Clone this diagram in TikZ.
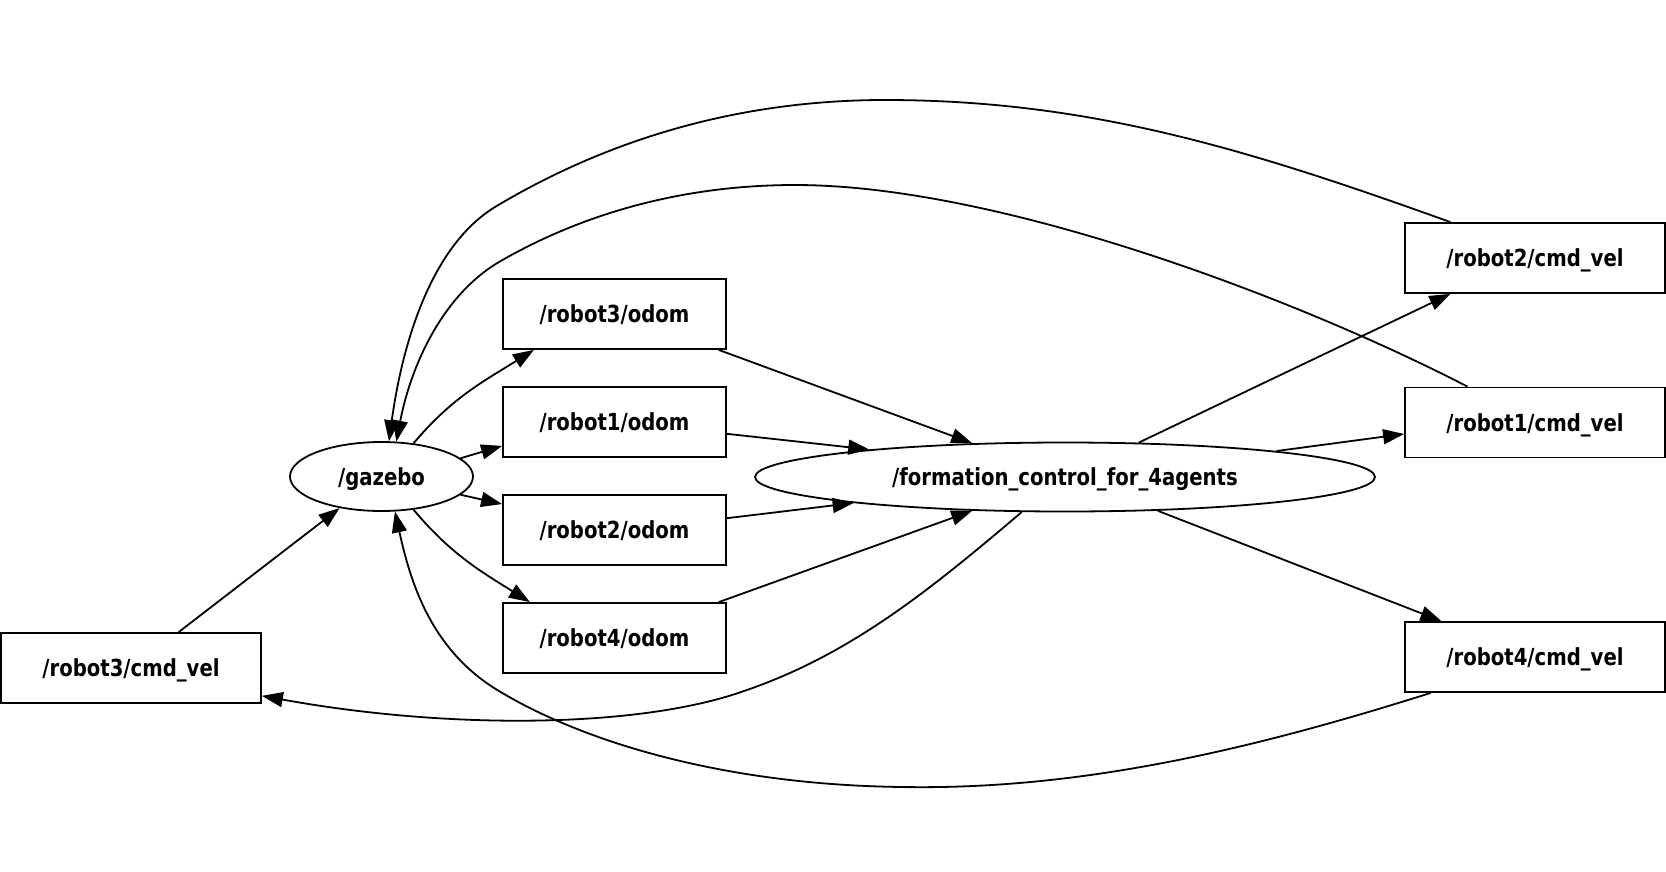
\documentclass[tikz,border=0pt]{standalone}
\usepackage{fontspec}
\newfontfamily\lblfont{DejaVu Sans Condensed Bold}[FakeStretch=0.93]
\usetikzlibrary{arrows.meta,shapes.geometric}
\begin{document}
\begin{tikzpicture}[x=1pt,y=-1pt,line width=1.8pt,
  lbl/.style={font=\lblfont\fontsize{23.5}{28}\selectfont,text height=17.8pt,text depth=0pt},
  topic/.style={lbl,draw,rectangle,inner sep=0pt,minimum height=70pt},
  nodebox/.style={lbl,draw,ellipse,inner sep=0pt,minimum height=69pt},
  link/.style={-{Triangle[length=21pt,width=15pt]}}]
\useasboundingbox (0,0) rectangle (1666,871);

% nodes
\node[nodebox,minimum width=183pt] (gazebo) at (381.5,476.5) {/gazebo};
\node[nodebox,minimum width=620pt] (formation) at (1065,477) {/formation\_control\_for\_4agents};
\node[topic,minimum width=260pt] (r3cmd) at (131,668) {/robot3/cmd\_vel};
\node[topic,minimum width=223pt] (r3odom) at (614.5,314) {/robot3/odom};
\node[topic,minimum width=223pt] (r1odom) at (614.5,422) {/robot1/odom};
\node[topic,minimum width=223pt] (r2odom) at (614.5,530) {/robot2/odom};
\node[topic,minimum width=223pt] (r4odom) at (614.5,638) {/robot4/odom};
\node[topic,minimum width=260pt] (r2cmd) at (1535,258) {/robot2/cmd\_vel};
\node[topic,minimum width=260pt] (r1cmd) at (1535,422.5) {/robot1/cmd\_vel};
\node[topic,minimum width=260pt] (r4cmd) at (1535,657) {/robot4/cmd\_vel};

% gazebo publishes odometry
\draw[link] (gazebo.46) to[out=50,in=212] (r3odom.204);
\draw[link] (gazebo.13.3) -- (r1odom.192.6);
\draw[link] (gazebo.-13.3) -- (r2odom.167.9);
\draw[link] (gazebo.-46) to[out=-50,in=148] (r4odom.157.4);

% odometry into the controller
\draw[link] (r3odom.-19.7) -- (formation.160);
\draw[link] (r1odom.-6.65) -- (formation.172.8);
\draw[link] (r2odom.6.65) -- (formation.187.2);
\draw[link] (r4odom.19.2) -- (formation.200);

% controller outputs
\draw[link] (formation.25) -- (r2cmd.203.9);
\draw[link] (formation.7.5) -- (r1cmd.185.5);
\draw[link] (formation.-20.7) -- (r4cmd.159.6);
\draw[link] (formation.219.8) .. controls (930,590) and (850,655) .. (744,691)
  .. controls (640,728) and (450,730) .. (r3cmd.-12.6);

% velocity commands back to gazebo
\draw[link] (r3cmd.37) -- (gazebo.217);
\draw[link] (r2cmd.157.6) .. controls (1250,150) and (1090,100) .. (885,100)
  .. controls (720,100) and (590,150) .. (495,207)
  .. controls (425,250) and (400,360) .. (gazebo.78);
\draw[link] (r1cmd.152) .. controls (1300,300) and (1000,185) .. (795,185)
  .. controls (680,185) and (580,215) .. (499,262)
  .. controls (440,297) and (410,370) .. (gazebo.67);
\draw[link] (r4cmd.199.1) .. controls (1250,750) and (1080,790) .. (903,787)
  .. controls (720,785) and (580,740) .. (499,691)
  .. controls (430,650) and (410,580) .. (gazebo.-69.2);
\end{tikzpicture}
\end{document}
